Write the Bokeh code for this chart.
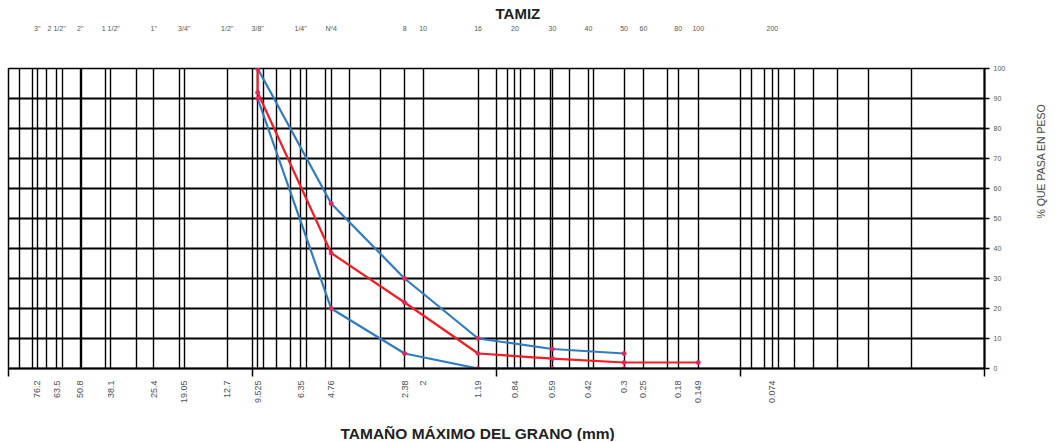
import math
from bokeh.plotting import figure
from bokeh.models import (Range1d, LogAxis, LinearAxis, FixedTicker, Grid, Title,
                          CustomJSTickFormatter, LogScale)
from bokeh.embed import file_html
from bokeh.resources import INLINE

# ---- data ----
sieve_names = ['3"', '2 1/2"', '2"', '1 1/2"', '1"', '3/4"', '1/2"', '3/8"', '1/4"', 'Nº4',
               '8', '10', '16', '20', '30', '40', '50', '60', '80', '100', '200']
sieve_mm = [76.2, 63.5, 50.8, 38.1, 25.4, 19.05, 12.7, 9.525, 6.35, 4.76,
            2.38, 2.0, 1.19, 0.84, 0.59, 0.42, 0.3, 0.25, 0.18, 0.149, 0.074]
sieve_mm_labels = ["76.2", "63.5", "50.8", "38.1", "25.4", "19.05", "12.7", "9.525", "6.35", "4.76",
                   "2.38", "2", "1.19", "0.84", "0.59", "0.42", "0.3", "0.25", "0.18", "0.149", "0.074"]
decades = [100, 10, 1, 0.1, 0.01]
log_minor = [90, 80, 70, 60, 50, 40, 30, 20,
             9, 8, 7, 6, 5, 4, 3, 2,
             0.9, 0.8, 0.7, 0.6, 0.5, 0.4, 0.3, 0.2,
             0.09, 0.08, 0.07, 0.06, 0.05, 0.04, 0.03, 0.02]
percent_ticks = [0, 10, 20, 30, 40, 50, 60, 70, 80, 90, 100]

upper_x = [9.525, 4.76, 2.38, 1.19, 0.59, 0.3]
upper_y = [100, 55, 30, 10, 6.5, 5]
lower_x = [9.525, 4.76, 2.38, 1.19, 0.59, 0.3]
lower_y = [90, 20, 5, 0, 0, 0]
sample_x = [9.525, 9.525, 4.76, 2.38, 1.19, 0.59, 0.3, 0.149]
sample_y = [100, 92, 38.5, 22, 5, 3.3, 2, 2]

BLUE = "#2F7CC0"
RED = "#F21C24"
MARK = "#E8245A"
FONT = "Liberation Sans"

W, H = 1056, 441
FL, FR, FT, FB = 8, 988, 68, 368

p = figure(width=W, height=H, x_axis_type="log",
           x_range=Range1d(100, 0.01), y_range=Range1d(0, 100),
           x_axis_location=None, y_axis_location=None,
           output_backend="svg", toolbar_location=None,
           min_border_left=FL, min_border_right=W - FR, min_border_top=FT, min_border_bottom=H - FB)
p.x_scale = LogScale()
p.grid.visible = False
p.outline_line_color = "black"
p.outline_line_width = 1.5
p.background_fill_color = "white"
p.border_fill_color = "white"

fmt_code = """
let best = -1, bd = 1e9;
for (let i = 0; i < t.length; i++) {
  const d = Math.abs(Math.log(t[i]) - Math.log(tick));
  if (d < bd) { bd = d; best = i; }
}
return bd < 1e-3 ? l[best] : "";
"""

# grids
xg = Grid(dimension=0, ticker=FixedTicker(ticks=sorted(decades + log_minor + sieve_mm)),
          grid_line_color="black", grid_line_width=1.4)
yg = Grid(dimension=1, ticker=FixedTicker(ticks=percent_ticks),
          grid_line_color="black", grid_line_width=1.8)
p.add_layout(xg)
p.add_layout(yg)

# bottom axis
bax = LogAxis(ticker=FixedTicker(ticks=sieve_mm, minor_ticks=decades),
              formatter=CustomJSTickFormatter(args=dict(t=sieve_mm, l=sieve_mm_labels), code=fmt_code))
bax.major_tick_in = 0
bax.major_tick_out = 0
bax.minor_tick_in = 0
bax.minor_tick_out = 8
bax.minor_tick_line_color = "black"
bax.minor_tick_line_width = 1.5
bax.axis_line_width = 2
bax.major_label_orientation = math.pi / 2
bax.major_label_text_font_size = "9px"
bax.major_label_text_font = FONT
bax.major_label_text_color = "#4a4f5a"
bax.major_label_standoff = 4
bax.axis_label = "\u00a0"
bax.axis_label_text_font_size = "10px"
bax.axis_label_standoff = 2
p.add_layout(bax, "below")

# top axis
tax = LogAxis(ticker=FixedTicker(ticks=sieve_mm),
              formatter=CustomJSTickFormatter(args=dict(t=sieve_mm, l=sieve_names), code=fmt_code))
tax.axis_line_color = None
tax.major_tick_line_color = None
tax.minor_tick_line_color = None
tax.major_label_text_font_size = "7px"
tax.major_label_text_font = FONT
tax.major_label_text_color = "#555555"
tax.major_label_standoff = 31
p.add_layout(tax, "above")

# right axis
rax = LinearAxis(ticker=FixedTicker(ticks=percent_ticks))
rax.major_tick_in = 0
rax.major_tick_out = 5
rax.minor_tick_line_color = None
rax.axis_line_width = 2
rax.major_tick_line_width = 1.5
rax.major_label_text_font_size = "7px"
rax.major_label_text_font = FONT
rax.major_label_text_color = "#555555"
rax.major_label_standoff = 4
rax.axis_label = "% QUE PASA EN PESO"
rax.axis_label_text_font = FONT
rax.axis_label_text_font_size = "10.5px"
rax.axis_label_text_font_style = "normal"
rax.axis_label_text_color = "#444444"
rax.axis_label_standoff = 33
if "axis_label_orientation" in rax.properties():
    rax.axis_label_orientation = math.pi / 2
p.add_layout(rax, "right")

# titles
ttop = Title(text="TAMIZ", align="left", offset=495 - FL, text_font_size="15px",
             text_font_style="bold", text_font=FONT, text_color="#222222", standoff=0)
p.add_layout(ttop, "above")
tbot = Title(text="TAMAÑO MÁXIMO DEL GRANO (mm)", align="left", offset=340 - FL, text_font_size="15.5px",
             text_font_style="bold", text_font=FONT, text_color="#222222", standoff=0)
p.add_layout(tbot, "below")

# curves
p.line(upper_x, upper_y, line_color=BLUE, line_width=2.2)
p.line(lower_x, lower_y, line_color=BLUE, line_width=2.2)
p.line(sample_x, sample_y, line_color=RED, line_width=2.2)
for xs, ys in ((upper_x, upper_y), (lower_x, lower_y), (sample_x, sample_y)):
    p.scatter(xs, ys, size=4, color=MARK)

open("out.html", "w").write(file_html(p, INLINE))
